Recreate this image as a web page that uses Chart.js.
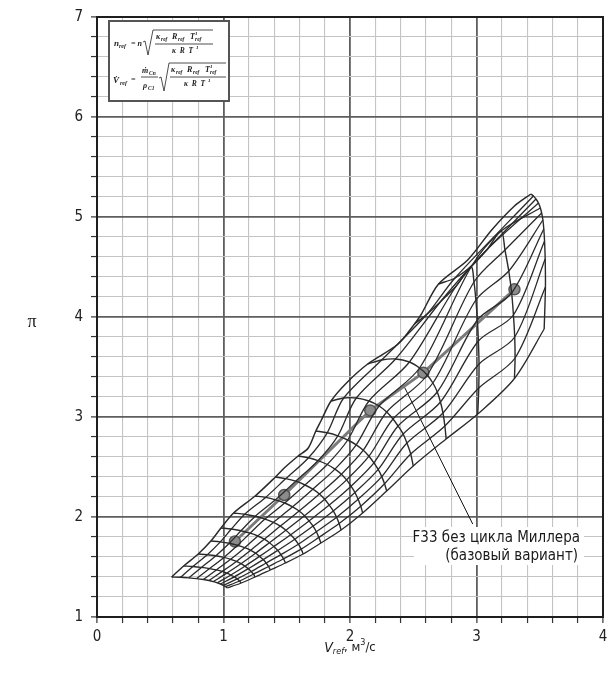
<!DOCTYPE html>
<html><head><meta charset="utf-8">
<script src="https://cdn.jsdelivr.net/npm/chart.js@4.4.1/dist/chart.umd.min.js"></script>
<style>html,body{margin:0;padding:0;background:#fff;}#wrap{width:614px;height:686px;position:relative;}</style>
</head><body><div id="wrap"><canvas id="c" width="614" height="686"></canvas></div>
<script>
// axis ranges and labelled ticks
const xRange = [0, 4];
const yRange = [1, 7];
const minorStep = 0.2;

// operating points (V_ref, pi)
const opPoints = [[1.09,1.755],[1.48,2.22],[2.16,3.066],[2.58,3.443],[3.30,4.277]];

// surge boundary
const surgeLine = [[0.59,1.40],[0.685,1.51],[0.80,1.63],[0.90,1.76],[0.98,1.89],[1.08,2.04],[1.25,2.21],[1.41,2.40],[1.48,2.49],[1.59,2.61],[1.67,2.69],[1.73,2.86],[1.77,2.96],[1.85,3.16],[1.98,3.35],[2.14,3.53],[2.38,3.73],[2.51,3.93],[2.56,4.02],[2.70,4.33],[2.93,4.57],[3.12,4.87],[3.30,5.11],[3.43,5.23]];

// speed lines, surge end first, choke end last
const speedLines = [
  [[0.59,1.40],[0.66,1.397],[0.726,1.391],[0.788,1.384],[0.841,1.375],[0.885,1.365],[0.92,1.354],[0.951,1.342],[0.977,1.33],[0.999,1.316],[1.017,1.303],[1.03,1.29]],
  [[0.685,1.51],[0.758,1.505],[0.826,1.496],[0.89,1.484],[0.944,1.471],[0.99,1.456],[1.026,1.439],[1.058,1.42],[1.085,1.401],[1.108,1.381],[1.126,1.36],[1.14,1.34]],
  [[0.80,1.63],[0.872,1.623],[0.94,1.612],[1.003,1.596],[1.057,1.577],[1.102,1.556],[1.138,1.533],[1.169,1.508],[1.196,1.483],[1.219,1.455],[1.237,1.428],[1.25,1.40]],
  [[0.90,1.76],[0.975,1.751],[1.046,1.737],[1.112,1.717],[1.168,1.693],[1.215,1.667],[1.253,1.638],[1.285,1.606],[1.314,1.574],[1.337,1.54],[1.356,1.505],[1.37,1.47]],
  [[0.98,1.89],[1.062,1.88],[1.138,1.862],[1.21,1.838],[1.271,1.81],[1.322,1.778],[1.363,1.743],[1.398,1.705],[1.429,1.666],[1.454,1.624],[1.475,1.582],[1.49,1.54]],
  [[1.08,2.04],[1.168,2.028],[1.251,2.007],[1.328,1.979],[1.394,1.946],[1.449,1.909],[1.493,1.868],[1.531,1.823],[1.564,1.778],[1.592,1.728],[1.614,1.679],[1.63,1.63]],
  [[1.25,2.21],[1.333,2.196],[1.411,2.172],[1.484,2.14],[1.546,2.102],[1.598,2.06],[1.64,2.013],[1.676,1.961],[1.708,1.909],[1.734,1.853],[1.754,1.796],[1.77,1.74]],
  [[1.41,2.40],[1.493,2.384],[1.571,2.358],[1.644,2.32],[1.706,2.278],[1.758,2.23],[1.80,2.177],[1.836,2.119],[1.868,2.061],[1.894,1.997],[1.914,1.934],[1.93,1.87]],
  [[1.59,2.61],[1.672,2.593],[1.748,2.564],[1.82,2.525],[1.881,2.479],[1.932,2.428],[1.973,2.371],[2.008,2.308],[2.039,2.245],[2.064,2.177],[2.085,2.108],[2.10,2.04]],
  [[1.73,2.86],[1.82,2.842],[1.904,2.812],[1.982,2.77],[2.049,2.722],[2.105,2.668],[2.15,2.608],[2.189,2.542],[2.223,2.476],[2.251,2.404],[2.273,2.332],[2.29,2.26]],
  [[1.85,3.16],[1.95,3.19],[2.05,3.19],[2.15,3.16],[2.23,3.11],[2.29,3.05],[2.34,2.98],[2.38,2.91],[2.42,2.83],[2.45,2.74],[2.48,2.63],[2.50,2.51]],
  [[2.14,3.53],[2.25,3.57],[2.36,3.58],[2.47,3.55],[2.55,3.49],[2.61,3.42],[2.655,3.34],[2.69,3.25],[2.715,3.15],[2.735,3.04],[2.75,2.91],[2.76,2.78]],
  [[2.51,3.93],[2.61,4.03],[2.72,4.16],[2.84,4.31],[2.957,4.50],[2.98,4.35],[2.995,4.17],[3.007,3.97],[3.015,3.76],[3.02,3.53],[3.018,3.29],[3.01,3.03]],
  [[2.70,4.33],[2.83,4.39],[2.96,4.51],[3.08,4.67],[3.195,4.86],[3.225,4.67],[3.255,4.46],[3.278,4.24],[3.292,4.02],[3.302,3.80],[3.305,3.59],[3.30,3.385]],
  [[3.43,5.23],[3.45,5.21],[3.47,5.18],[3.49,5.14],[3.505,5.09],[3.515,5.04],[3.525,4.97],[3.532,4.88],[3.538,4.76],[3.543,4.58],[3.545,4.30],[3.535,3.88]]
];

// leader from the operating line to the caption
const leader = [[2.43,3.30],[2.97,1.93]];
const captionLines = ['F33 без цикла Миллера', '(базовый вариант)'];

const pts = a => a.map(p => ({x:p[0], y:p[1]}));
const MESH = '#2a2a2a';
const datasets = [];
speedLines.forEach(line => datasets.push({data: pts(line), borderColor: MESH, borderWidth: 1.4, tension: 0.3, pointRadius: 0, showLine: true}));
// lines of equal position across the speed lines
for (let j = 1; j < speedLines[0].length; j++) {
  datasets.push({data: pts(speedLines.map(l => l[j])), borderColor: MESH, borderWidth: 1.3, tension: 0.3, pointRadius: 0, showLine: true});
}
datasets.push({data: pts(surgeLine), borderColor: MESH, borderWidth: 1.5, tension: 0.3, pointRadius: 0, showLine: true});
datasets.push({data: pts(opPoints), borderColor: '#7a7a7a', borderWidth: 3, tension: 0, pointRadius: 5.5,
  pointBackgroundColor: '#8c8c8c', pointBorderColor: '#555', pointBorderWidth: 1.5, showLine: true});
datasets.push({data: pts(leader), borderColor: '#111', borderWidth: 1, tension: 0, pointRadius: 0, showLine: true});

const isMajor = v => Math.abs(v - Math.round(v)) < 1e-6;
const NARROW = '"Liberation Sans Narrow","DejaVu Sans Condensed",sans-serif';

const decor = {
  id: 'decor',
  afterDatasetsDraw(chart) {
    const {ctx, chartArea: a} = chart;
    ctx.save();
    // frame
    ctx.strokeStyle = '#1e1e1e'; ctx.lineWidth = 2;
    ctx.strokeRect(a.left, a.top, a.right - a.left, a.bottom - a.top);

    // formula box
    ctx.fillStyle = '#fff'; ctx.fillRect(109, 21, 120, 80);
    ctx.strokeStyle = '#555'; ctx.lineWidth = 2; ctx.strokeRect(109, 21, 120, 80);
    ctx.fillStyle = '#222'; ctx.strokeStyle = '#222'; ctx.lineWidth = 0.8;
    const F = s => 'italic bold ' + s + 'px "Liberation Serif",serif';
    const txt = (t, px, py, s, al) => { ctx.font = F(s); ctx.textAlign = al || 'left'; ctx.textBaseline = 'alphabetic'; ctx.fillText(t, px, py); };
    const line = (x1, y1, x2, y2) => { ctx.beginPath(); ctx.moveTo(x1, y1); ctx.lineTo(x2, y2); ctx.stroke(); };
    // row 1
    txt('n', 114, 46, 9); txt('ref', 119, 48, 6); txt('= n', 131, 46, 8);
    line(143, 42, 145, 41); line(145, 41, 148, 55); line(148, 55, 153, 30); line(153, 30, 213, 30);
    txt('κ', 156, 39, 8); txt('ref', 161, 41, 5.5); txt('R', 172, 39, 8); txt('ref', 178, 41, 5.5);
    txt('T', 190, 39, 8); txt('1', 195, 35, 5); txt('ref', 195, 41, 5.5);
    line(155, 44, 213, 44);
    txt('κ  R  T', 172, 53, 7.5); txt('1', 196, 49, 5);
    // row 2
    txt('V̇', 113, 83, 9); txt('ref', 120, 85, 6); txt('=', 131, 82, 8);
    txt('ṁ', 142, 73, 8); txt('Cn', 149, 75, 5.5);
    line(141, 77, 158, 77);
    txt('ρ', 143, 88, 8); txt('C1', 148, 90, 5.5);
    line(159, 78, 161, 77); line(161, 77, 164, 91); line(164, 91, 169, 63); line(169, 63, 226, 63);
    txt('κ', 171, 72, 8); txt('ref', 176, 74, 5.5); txt('R', 187, 72, 8); txt('ref', 193, 74, 5.5);
    txt('T', 205, 72, 8); txt('1', 210, 68, 5); txt('ref', 210, 74, 5.5);
    line(170, 77, 226, 77);
    txt('κ  R  T', 184, 86, 7.5); txt('1', 208, 82, 5);

    // caption with white backing
    ctx.fillStyle = '#fff'; ctx.fillRect(414, 527, 170, 38);
    ctx.fillStyle = '#1a1a1a'; ctx.font = '15px ' + NARROW; ctx.textAlign = 'right'; ctx.textBaseline = 'middle';
    ctx.fillText(captionLines[0], 580, 538);
    ctx.fillText(captionLines[1], 578, 556);

    // axis titles
    ctx.textAlign = 'center'; ctx.textBaseline = 'middle';
    ctx.font = '18px "Liberation Serif",serif';
    ctx.fillText('π', 32, 322);
    const cx = (a.left + a.right) / 2, ty = 648;
    ctx.textAlign = 'left';
    const parts = [['V', 'italic 14px ' + NARROW, 0], ['ref', 'italic 9px ' + NARROW, 4], [', м', '13px ' + NARROW, 0], ['3', '9px ' + NARROW, -5], ['/с', '13px ' + NARROW, 0]];
    let w = 0; parts.forEach(p => { ctx.font = p[1]; w += ctx.measureText(p[0]).width; });
    let px = cx - w / 2;
    parts.forEach(p => { ctx.font = p[1]; ctx.fillText(p[0], px, ty + p[2]); px += ctx.measureText(p[0]).width; });
    ctx.restore();
  }
};

const gridOpts = {
  color: c => isMajor(c.tick.value) ? '#5e5e5e' : '#c4c4c4',
  lineWidth: c => isMajor(c.tick.value) ? 1.8 : 1.1,
  tickColor: '#333', tickLength: 6, tickWidth: 1.2
};
const tickLabel = v => isMajor(v) ? String(Math.round(v)) : '';

new Chart(document.getElementById('c'), {
  type: 'scatter',
  data: {datasets},
  plugins: [decor],
  options: {
    responsive: false, animation: false, devicePixelRatio: 1,
    layout: {padding: {left: 0, right: 11, top: 13, bottom: 39}},
    plugins: {legend: {display: false}, tooltip: {enabled: false}},
    scales: {
      x: {min: xRange[0], max: xRange[1], grid: gridOpts, border: {display: true, color: '#1e1e1e', width: 2},
          ticks: {stepSize: minorStep, autoSkip: false, maxRotation: 0, padding: 5, color: '#222', font: {family: NARROW, size: 15}, callback: tickLabel},
          afterFit: s => { s.height = 30; }},
      y: {min: yRange[0], max: yRange[1], grid: gridOpts, border: {display: true, color: '#1e1e1e', width: 2},
          ticks: {stepSize: minorStep, autoSkip: false, padding: 8, color: '#222', font: {family: NARROW, size: 15}, callback: tickLabel},
          afterFit: s => { s.width = 97; }}
    }
  }
});
</script></body></html>
